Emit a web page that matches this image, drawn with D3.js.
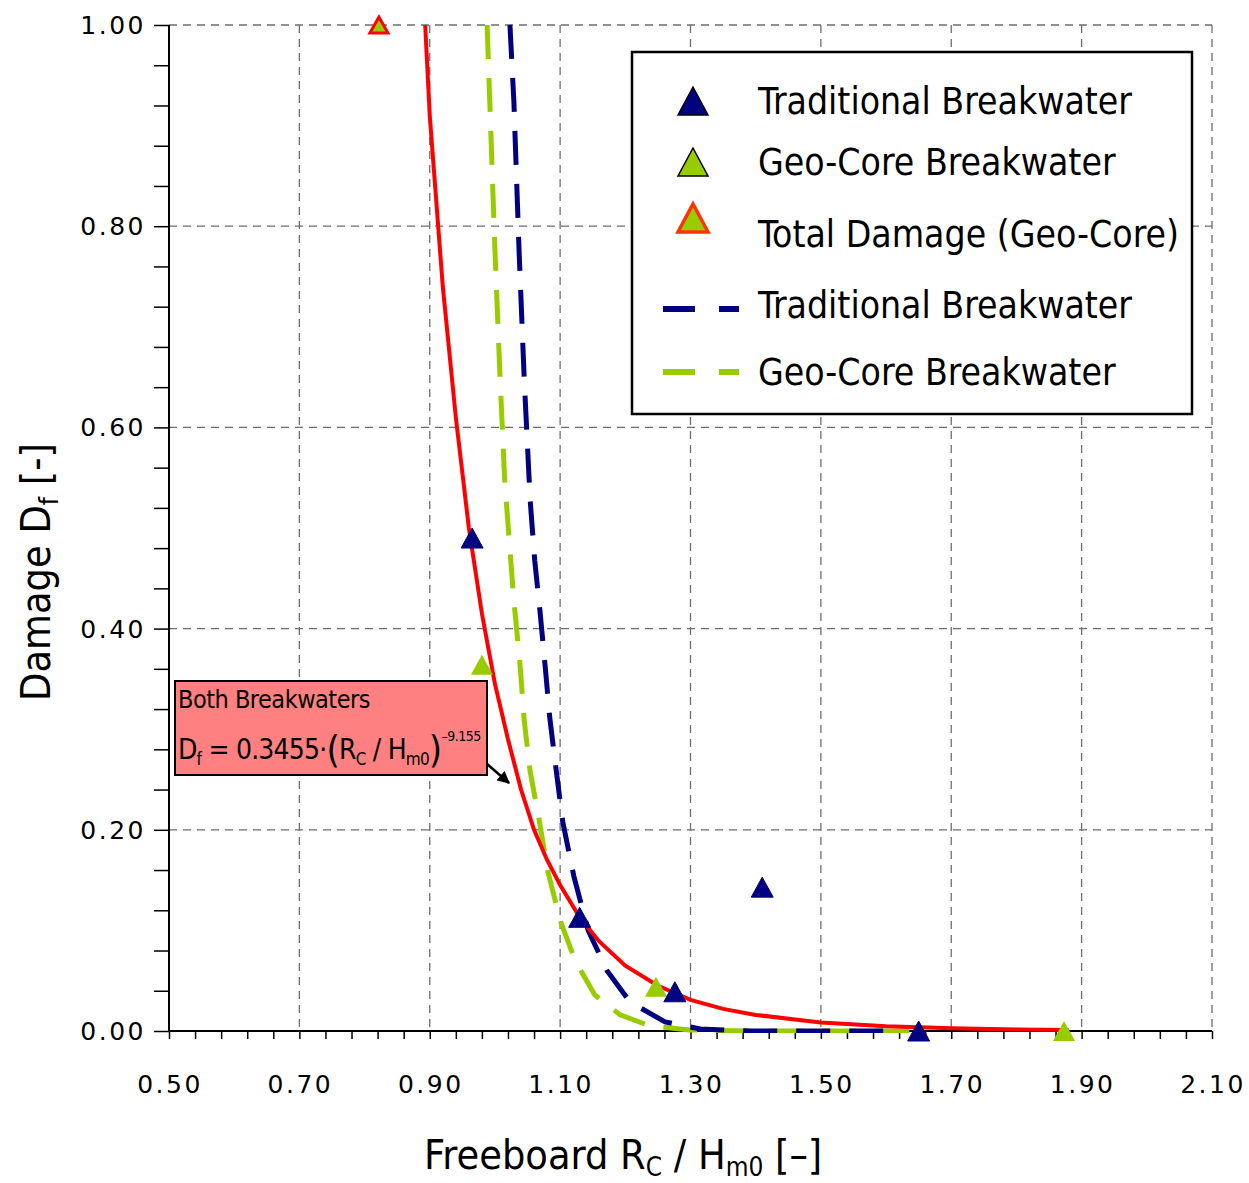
<!DOCTYPE html>
<html><head><meta charset="utf-8">
<script src="https://cdn.jsdelivr.net/npm/d3@7"></script>
<style>
html,body{margin:0;padding:0;background:#fff;}
svg{display:block;}
.cond{font-family:"DejaVu Sans Condensed","DejaVu Sans",sans-serif;font-stretch:condensed;}
.tick{font-family:"DejaVu Sans",sans-serif;font-size:25px;letter-spacing:2.5px;fill:#000;}
</style></head>
<body>
<svg id="chart" width="1249" height="1183"></svg>
<script>
// ---------- data ----------
const xTickLabels = ["0.50","0.70","0.90","1.10","1.30","1.50","1.70","1.90","2.10"];
const yTickLabels = ["0.00","0.20","0.40","0.60","0.80","1.00"];

// measured points
const tradX = [0.965, 1.130, 1.276, 1.410, 1.650];
const tradY = [0.490, 0.113, 0.039, 0.143, 0.000];
const geoX  = [0.980, 1.247, 1.873];
const geoY  = [0.364, 0.044, 0.000];
const totalX = [0.822];
const totalY = [1.000];

// fitted curve, traditional breakwater (dashed navy)
const fitTradX = [1.023,1.029,1.037,1.045,1.054,1.061,1.069,1.077,1.084,1.094,1.104,1.121,1.143,1.172,1.207,1.261,1.315,1.391,1.621];
const fitTradY = [1.000,0.925,0.776,0.647,0.528,0.468,0.418,0.363,0.312,0.259,0.208,0.154,0.100,0.060,0.029,0.009,0.002,0.000,0.000];
// fitted curve, geo-core breakwater (dashed green)
const fitGeoX = [0.988,0.992,1.000,1.008,1.015,1.022,1.029,1.038,1.045,1.054,1.068,1.081,1.100,1.123,1.153,1.192,1.238,1.299,1.391,1.637];
const fitGeoY = [1.000,0.925,0.776,0.647,0.547,0.487,0.428,0.368,0.308,0.258,0.209,0.159,0.110,0.070,0.036,0.016,0.005,0.001,0.000,0.000];
// fitted curve, both breakwaters (solid red)
const fitBothX = [0.893,0.900,0.920,0.940,0.960,0.980,1.000,1.020,1.040,1.060,1.080,1.100,1.130,1.160,1.200,1.250,1.300,1.350,1.400,1.500,1.600,1.700,1.800,1.880];
const fitBothY = [1.000,0.910,0.740,0.610,0.500,0.415,0.345,0.290,0.240,0.200,0.170,0.145,0.113,0.089,0.065,0.045,0.031,0.022,0.016,0.0085,0.0047,0.0027,0.0016,0.0010];

const legendLabels = ["Traditional Breakwater","Geo-Core Breakwater","Total Damage (Geo-Core)","Traditional Breakwater","Geo-Core Breakwater"];

// ---------- layout ----------
const NAVY = "#000080", GREEN = "#99CC00", RED = "#FF0000";
const L = 169, R = 1212, T = 25, B = 1031;
const svg = d3.select("#chart");
const x = d3.scaleLinear().domain([0.5, 2.1]).range([L, R]);
const y = d3.scaleLinear().domain([0, 1]).range([B, T]);

const majorX = xTickLabels.map(Number);
const majorY = yTickLabels.map(Number);
const minorX = d3.range(0, 41).map(i => 0.5 + i * 0.04);
const minorY = d3.range(0, 26).map(i => i * 0.04);

// gridlines
const grid = svg.append("g").attr("stroke", "#6e6e6e").attr("stroke-width", 1.3).attr("stroke-dasharray", "8,6");
grid.selectAll(".gx").data(majorX.slice(1)).join("line")
  .attr("x1", d => x(d)).attr("x2", d => x(d)).attr("y1", T).attr("y2", B);
grid.selectAll(".gy").data(majorY.slice(1)).join("line")
  .attr("y1", d => y(d)).attr("y2", d => y(d)).attr("x1", L).attr("x2", R);

// axes
const xAxis = d3.axisBottom(x).tickValues(minorX).tickSize(8).tickFormat("");
const gx = svg.append("g").attr("transform", `translate(0,${B})`).call(xAxis);
gx.select(".domain").attr("stroke", "#000").attr("stroke-width", 2).attr("d", `M${L},0H${R}`);
gx.selectAll(".tick line").attr("stroke", "#000").attr("stroke-width", 1.5);

const yAxis = d3.axisLeft(y).tickValues(minorY).tickSize(15).tickFormat("");
const gy = svg.append("g").attr("transform", `translate(${L},0)`).call(yAxis);
gy.select(".domain").attr("stroke", "#000").attr("stroke-width", 2).attr("d", `M0,${T}V${B}`);
gy.selectAll(".tick line").attr("stroke", "#000").attr("stroke-width", 1.5);

// tick labels
svg.append("g").selectAll("text").data(xTickLabels).join("text")
  .attr("class", "tick").attr("x", d => x(+d) + 1).attr("y", 1093)
  .attr("text-anchor", "middle").text(d => d);
svg.append("g").selectAll("text").data(yTickLabels).join("text")
  .attr("class", "tick").attr("x", 146).attr("y", d => y(+d) + 9)
  .attr("text-anchor", "end").text(d => d);

// axis titles
const xt = svg.append("text").attr("class", "cond").attr("x", 424).attr("y", 1169)
  .attr("font-size", 41).attr("fill", "#000");
xt.append("tspan").text("Freeboard  R");
xt.append("tspan").attr("font-size", 26).attr("dy", 7).text("C");
xt.append("tspan").attr("dy", -7).text(" / H");
xt.append("tspan").attr("font-size", 26).attr("dy", 7).text("m0");
xt.append("tspan").attr("dy", -7).text(" [–]");

const yt = svg.append("text").attr("class", "cond")
  .attr("transform", "translate(50,572) rotate(-90)")
  .attr("text-anchor", "middle").attr("font-size", 41).attr("fill", "#000");
yt.append("tspan").text("Damage D");
yt.append("tspan").attr("font-size", 26).attr("dy", 8).text("f");
yt.append("tspan").attr("dy", -8).text(" [-]");

// clip
svg.append("clipPath").attr("id", "plotclip").append("rect")
  .attr("x", L).attr("y", T - 2).attr("width", R - L).attr("height", B - T + 4);

const line = d3.line().x(d => x(d[0])).y(d => y(d[1]));
const plot = svg.append("g").attr("clip-path", "url(#plotclip)");

plot.append("path").datum(d3.zip(fitGeoX, fitGeoY)).attr("d", line)
  .attr("fill", "none").attr("stroke", GREEN).attr("stroke-width", 5).attr("stroke-dasharray", "34,19");
plot.append("path").datum(d3.zip(fitTradX, fitTradY)).attr("d", line)
  .attr("fill", "none").attr("stroke", NAVY).attr("stroke-width", 5).attr("stroke-dasharray", "34,19");

// markers
function tri(cx, cy, w, h) {
  return `M${cx},${cy - h / 2}L${cx + w / 2},${cy + h / 2}L${cx - w / 2},${cy + h / 2}Z`;
}
svg.append("g").selectAll("path").data(d3.zip(geoX, geoY)).join("path")
  .attr("d", d => tri(x(d[0]), y(d[1]), 22, 20)).attr("fill", GREEN);
svg.append("g").selectAll("path").data(d3.zip(tradX, tradY)).join("path")
  .attr("d", d => tri(x(d[0]), y(d[1]), 22, 20)).attr("fill", NAVY).attr("stroke", NAVY).attr("stroke-width", 1);
svg.append("g").selectAll("path").data(d3.zip(totalX, totalY)).join("path")
  .attr("d", d => tri(x(d[0]), y(d[1]), 18, 16)).attr("fill", GREEN).attr("stroke", RED).attr("stroke-width", 3);

plot.append("path").datum(d3.zip(fitBothX, fitBothY)).attr("d", line)
  .attr("fill", "none").attr("stroke", RED).attr("stroke-width", 4);

// annotation box
const ann = svg.append("g");
ann.append("rect").attr("x", 175).attr("y", 681).attr("width", 312).attr("height", 94)
  .attr("fill", "#FF8080").attr("stroke", "#000").attr("stroke-width", 2);
ann.append("text").attr("class", "cond").attr("x", 178).attr("y", 708)
  .attr("font-size", 25).attr("letter-spacing", -0.5).attr("fill", "#000").text("Both Breakwaters");
const f = ann.append("text").attr("class", "cond").attr("x", 178).attr("y", 759)
  .attr("font-size", 28).attr("letter-spacing", -0.8).attr("fill", "#000");
f.append("tspan").text("D");
f.append("tspan").attr("font-size", 17).attr("dy", 6).text("f");
f.append("tspan").attr("dy", -6).text(" = 0.3455·");
f.append("tspan").attr("font-size", 38).attr("dy", 3).text("(");
f.append("tspan").attr("dy", -3).text("R");
f.append("tspan").attr("font-size", 17).attr("dy", 6).text("C");
f.append("tspan").attr("dy", -6).text(" / H");
f.append("tspan").attr("font-size", 17).attr("dy", 6).text("m0");
f.append("tspan").attr("font-size", 38).attr("dy", -3).text(")");
f.append("tspan").attr("font-size", 14).attr("letter-spacing", -0.5).attr("dy", -21).text("–9.155");

svg.append("defs").append("marker").attr("id", "arr").attr("viewBox", "0 0 10 10")
  .attr("refX", 9).attr("refY", 5).attr("markerWidth", 5).attr("markerHeight", 5)
  .attr("orient", "auto").append("path").attr("d", "M0,0L10,5L0,10Z").attr("fill", "#000");
svg.append("line").attr("x1", 487).attr("y1", 764).attr("x2", 509).attr("y2", 783)
  .attr("stroke", "#000").attr("stroke-width", 2.5).attr("marker-end", "url(#arr)");

// legend
const lg = svg.append("g");
lg.append("rect").attr("x", 632).attr("y", 52).attr("width", 560).attr("height", 362)
  .attr("fill", "#fff").attr("stroke", "#000").attr("stroke-width", 2.5);
const legY = [101, 162, 223, 306, 372];
lg.append("path").attr("d", tri(693, legY[0], 30, 28)).attr("fill", NAVY).attr("stroke", "#000").attr("stroke-width", 1.5);
lg.append("path").attr("d", tri(693, legY[1], 30, 28)).attr("fill", GREEN).attr("stroke", "#000").attr("stroke-width", 1.5);
lg.append("path").attr("d", tri(693, legY[2] - 5, 30, 28)).attr("fill", GREEN).attr("stroke", "#FF3300").attr("stroke-width", 3.5);
lg.append("line").attr("x1", 663).attr("x2", 739).attr("y1", legY[3] + 3).attr("y2", legY[3] + 3)
  .attr("stroke", NAVY).attr("stroke-width", 6).attr("stroke-dasharray", "32,24");
lg.append("line").attr("x1", 663).attr("x2", 739).attr("y1", legY[4]).attr("y2", legY[4])
  .attr("stroke", GREEN).attr("stroke-width", 6).attr("stroke-dasharray", "32,24");
const legTextY = [114, 175, 247, 318, 385];
lg.selectAll(".lt").data(legendLabels).join("text").attr("class", "cond")
  .attr("x", 758).attr("y", (d, i) => legTextY[i]).attr("font-size", 37).attr("fill", "#000").text(d => d);
</script>
</body></html>
